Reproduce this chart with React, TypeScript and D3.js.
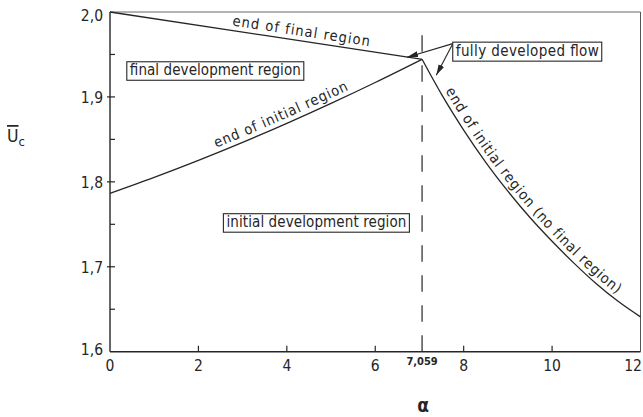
import React from 'react';
import * as d3 from 'd3';

const W = 643;
const H = 417;
const FONT = "'DejaVu Sans Condensed', 'Liberation Sans Narrow', 'DejaVu Sans', sans-serif";
const INK = '#262626';

// axis ticks
const alphaTicks = [0, 2, 4, 6, 8, 10, 12];
const alphaInnerTicks = [2, 4, 6, 8, 10];
const ucTicks = [1.6, 1.7, 1.8, 1.9, 2.0];
const ucMinorTicks = [1.65, 1.75, 1.85, 1.95];

// fully developed flow point
const alphaFD = 7.059;
const ucFD = 1.9443;

// end of final region
const finalAlpha = [0, 3.5, 7.059];
const finalUc = [2.0, 1.9724, 1.9443];

// end of initial region
const initialAlpha = [0, 1, 2, 3, 4, 5, 6, 7.059];
const initialUc = [1.7865, 1.8053, 1.8253, 1.8465, 1.8689, 1.8924, 1.917, 1.9443];

// end of initial region (no final region)
const noFinalAlpha = [7.059, 7.5, 8, 8.5, 9, 9.5, 10, 10.5, 11, 11.5, 12];
const noFinalUc = [1.9443, 1.903, 1.861, 1.823, 1.789, 1.758, 1.73, 1.704, 1.68, 1.659, 1.641];

const zip = (a: number[], b: number[]) => a.map((v, i) => [v, b[i]] as [number, number]);
const fmt = (v: number) => d3.format('.1f')(v).replace('.', ',');

export default function App() {
  const x = d3.scaleLinear().domain([0, 12]).range([110, 640.5]);
  const y = d3.scaleLinear().domain([1.6, 2.0]).range([351.7, 12]);

  const line = d3
    .line<[number, number]>()
    .x((d) => x(d[0]))
    .y((d) => y(d[1]))
    .curve(d3.curveMonotoneX);

  const finalPath = line(zip(finalAlpha, finalUc)) as string;
  const initialPath = line(zip(initialAlpha, initialUc)) as string;
  const noFinalPath = line(zip(noFinalAlpha, noFinalUc)) as string;

  const [x0, x1] = x.range();
  const [yb, yt] = y.range();

  // annotation anchors in data space
  const fdBox = { a: 7.753, u: 1.9645, w: 149, h: 19 };
  const arrowTipFinal: [number, number] = [6.72, 1.9468];
  const arrowTipNoFinal: [number, number] = [7.38, 1.9255];
  const finalBox = { a: 0.38, u: 1.9414, w: 177, h: 18.5 };
  const initialBox = { a: 2.565, u: 1.7625, w: 186, h: 18.5 };

  const bx = x(fdBox.a);
  const by = y(fdBox.u);

  return (
    <svg
      width={W}
      height={H}
      style={{ position: 'absolute', left: 0, top: 0, background: '#fff' }}
      fontFamily={FONT}
    >
      <defs>
        <marker
          id="arrowHead"
          markerUnits="userSpaceOnUse"
          markerWidth={12}
          markerHeight={7}
          refX={11}
          refY={3}
          orient="auto"
        >
          <path d="M0,0 L11,3 L0,6 Z" fill={INK} />
        </marker>
      </defs>

      {/* frame */}
      <line x1={x0} x2={x1} y1={yt} y2={yt} stroke="#666" strokeWidth={1} />
      <line x1={x1} x2={x1} y1={yt} y2={yb} stroke="#555" strokeWidth={1} />
      <line x1={x0} x2={x0} y1={yt} y2={yb} stroke={INK} strokeWidth={1.4} />
      <line x1={x0} x2={x1} y1={yb} y2={yb} stroke={INK} strokeWidth={1.4} />

      {/* y ticks */}
      {ucTicks.slice(1, -1).map((t) => (
        <line key={'ym' + t} x1={x0 - 3} x2={x0 + 5} y1={y(t)} y2={y(t)} stroke={INK} strokeWidth={1.2} />
      ))}
      {ucMinorTicks.map((t) => (
        <line key={'yn' + t} x1={x0} x2={x0 + 5} y1={y(t)} y2={y(t)} stroke={INK} strokeWidth={1.2} />
      ))}
      {ucTicks.map((t, i) => (
        <text
          key={'yl' + t}
          x={x0 - 7}
          y={y(t) + (i === ucTicks.length - 1 ? 9 : i === 0 ? 3 : 6)}
          textAnchor="end"
          fontSize={15.5}
          fill={INK}
        >
          {fmt(t)}
        </text>
      ))}

      {/* x ticks */}
      {alphaInnerTicks.map((t) => (
        <line key={'xt' + t} x1={x(t)} x2={x(t)} y1={yb} y2={yb - 6} stroke={INK} strokeWidth={1.2} />
      ))}
      {alphaTicks.map((t, i) => (
        <text
          key={'xl' + t}
          x={i === alphaTicks.length - 1 ? W - 1 : x(t)}
          y={yb + 19}
          textAnchor={i === alphaTicks.length - 1 ? 'end' : 'middle'}
          fontSize={15.5}
          fill={INK}
        >
          {t}
        </text>
      ))}
      <text x={x(alphaFD)} y={yb + 13.5} textAnchor="middle" fontSize={11} fontWeight="bold" fill={INK}>
        {String(alphaFD).replace('.', ',')}
      </text>

      {/* axis titles */}
      <text x={x(alphaFD) + 1} y={412} textAnchor="middle" fontSize={19} fontWeight="bold" fill={INK}>
        α
      </text>
      <text x={7} y={142} fontSize={17.5} fill={INK}>
        <tspan style={{ textDecoration: 'overline' }}>U</tspan>
        <tspan fontSize={13} dy={4}>c</tspan>
      </text>

      {/* fully developed flow position */}
      <line
        x1={x(alphaFD)}
        x2={x(alphaFD)}
        y1={yb}
        y2={yt + 13}
        stroke={INK}
        strokeWidth={1.2}
        strokeDasharray="16.5 13.5"
      />

      {/* curves */}
      <path id="finalCurve" d={finalPath} fill="none" stroke={INK} strokeWidth={1.3} />
      <path id="initialCurve" d={initialPath} fill="none" stroke={INK} strokeWidth={1.3} />
      <path id="noFinalCurve" d={noFinalPath} fill="none" stroke={INK} strokeWidth={1.3} />

      <text fontSize={14.5} fill={INK} dy={-5} letterSpacing={1.1}>
        <textPath href="#finalCurve" startOffset="61%" textAnchor="middle">
          end of final region
        </textPath>
      </text>
      <text fontSize={14.5} fill={INK} dy={-5} letterSpacing={0.9}>
        <textPath href="#initialCurve" startOffset="55.5%" textAnchor="middle">
          end of initial region
        </textPath>
      </text>
      <text fontSize={14.5} fill={INK} dy={-5} letterSpacing={0.9}>
        <textPath href="#noFinalCurve" startOffset="51%" textAnchor="middle">
          end of initial region (no final region)
        </textPath>
      </text>

      {/* region labels */}
      {[
        { b: finalBox, label: 'final development region' },
        { b: initialBox, label: 'initial development region' },
      ].map(({ b, label }) => (
        <g key={label}>
          <rect x={x(b.a)} y={y(b.u)} width={b.w} height={b.h} fill="#fff" stroke={INK} strokeWidth={1.1} />
          <text
            x={x(b.a) + 3}
            y={y(b.u) + b.h - 5}
            fontSize={15}
            fill={INK}
            textLength={b.w - 6}
            lengthAdjust="spacing"
          >
            {label}
          </text>
        </g>
      ))}

      {/* fully developed flow annotation */}
      <line
        x1={bx}
        y1={by + 1.5}
        x2={x(arrowTipFinal[0])}
        y2={y(arrowTipFinal[1])}
        stroke={INK}
        strokeWidth={1.1}
        markerEnd="url(#arrowHead)"
      />
      <line
        x1={bx}
        y1={by + 1.5}
        x2={x(arrowTipNoFinal[0])}
        y2={y(arrowTipNoFinal[1])}
        stroke={INK}
        strokeWidth={1.1}
        markerEnd="url(#arrowHead)"
      />
      <rect x={bx} y={by} width={fdBox.w} height={fdBox.h} fill="#fff" stroke={INK} strokeWidth={1.1} />
      <text
        x={bx + 3}
        y={by + fdBox.h - 5}
        fontSize={15}
        fill={INK}
        textLength={fdBox.w - 6}
        lengthAdjust="spacing"
      >
        fully developed flow
      </text>
    </svg>
  );
}
